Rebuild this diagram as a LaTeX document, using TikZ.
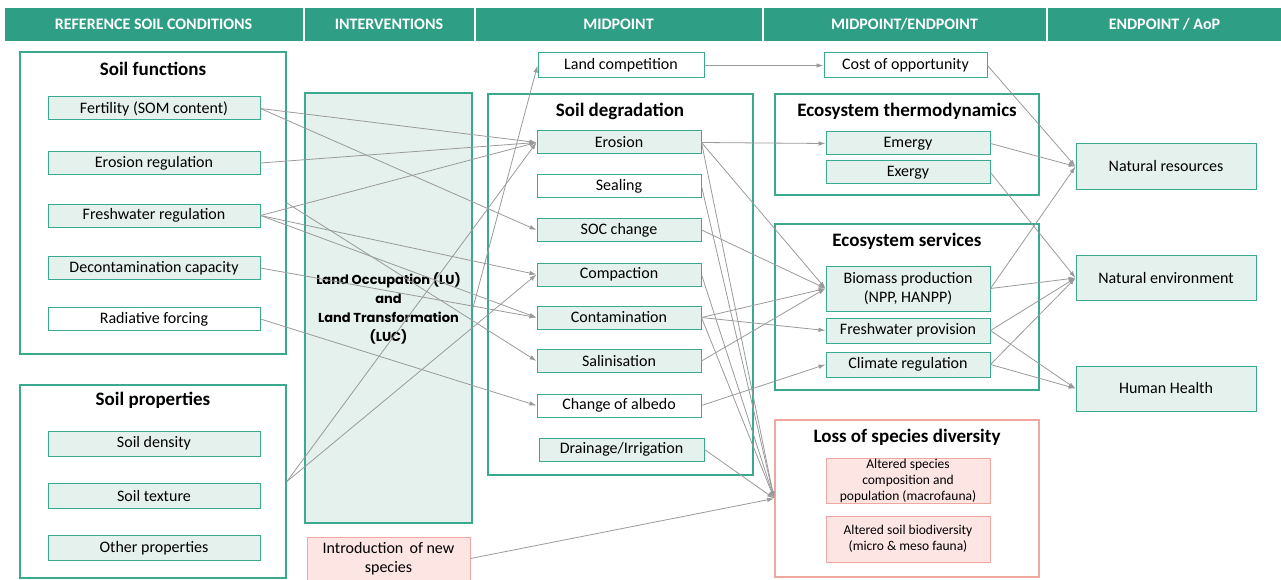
\documentclass[tikz,border=0pt]{standalone}
\usepackage{fontspec}
\setmainfont{Carlito}
\newfontfamily\gothic{Poppins}
\usetikzlibrary{arrows.meta}
\definecolor{headteal}{HTML}{2E9E85}
\definecolor{lineteal}{HTML}{3AAA8F}
\definecolor{fillteal}{HTML}{E4F1ED}
\definecolor{linepink}{HTML}{F0A7A0}
\definecolor{fillpink}{HTML}{FCE5E2}
\definecolor{arrgray}{HTML}{9A9A9A}
\tikzset{
  head/.style={fill=headteal, draw=headteal, text=white, minimum height=32pt, font=\bfseries\fontsize{16}{18}\selectfont},
  group/.style={draw=lineteal, line width=1.8pt, minimum width=264pt},
  grouptitle/.style={font=\bfseries\fontsize{19}{21}\selectfont},
  item/.style={draw=lineteal, fill=fillteal, line width=1pt, minimum width=164pt, minimum height=23pt, font=\fontsize{16}{19}\selectfont, align=center},
  itemwhite/.style={item, fill=white},
  itempink/.style={item, draw=linepink, fill=fillpink},
  aop/.style={item, minimum width=180pt, minimum height=45pt},
  link/.style={draw=arrgray, line width=0.8pt, -{Latex[length=7pt,width=4.5pt]}}
}
\begin{document}
\begin{tikzpicture}[x=1pt,y=-1pt,inner sep=0pt]
\useasboundingbox (0,0) rectangle (1281,580);

\node(h1) at (153.5,24) [head, minimum width=297pt] {REFERENCE SOIL CONDITIONS};
\node(h2) at (389,24) [head, minimum width=168pt] {INTERVENTIONS};
\node(h3) at (618.5,24) [head, minimum width=285pt] {MIDPOINT};
\node(h4) at (904.5,24) [head, minimum width=281pt] {MIDPOINT/ENDPOINT};
\node(h5) at (1164.5,24) [head, minimum width=233pt] {ENDPOINT / AoP};

\node(funcs) at (153,203) [group, minimum width=266pt, minimum height=302pt] {};
\node(funcst) at (153,69) [grouptitle] {Soil functions};
\node(fert) at (154,108.5) [item, minimum width=212pt] {Fertility (SOM content)};
\node(ereg) at (154,163) [item, minimum width=212pt] {Erosion regulation};
\node(fwreg) at (154,215.5) [item, minimum width=212pt] {Freshwater regulation};
\node(decon) at (154,268) [item, minimum width=212pt] {Decontamination capacity};
\node(radf) at (154,319) [itemwhite, minimum width=212pt] {Radiative forcing};

\node(props) at (153,481.5) [group, minimum width=266pt, minimum height=193pt] {};
\node(propst) at (153,400) [grouptitle] {Soil properties};
\node(dens) at (154,443.5) [item, minimum width=212pt, minimum height=25pt] {Soil density};
\node(text) at (154,495.5) [item, minimum width=212pt, minimum height=25pt] {Soil texture};
\node(other) at (154,548) [item, minimum width=212pt, minimum height=25pt] {Other properties};

\node(lu) at (388.5,308) [item, line width=1.8pt, minimum width=167pt, minimum height=430pt, font=\gothic\bfseries\fontsize{13}{19}\selectfont] {Land Occupation (LU)\\and\\Land Transformation\\(LUC)};
\node(intro) at (388.5,558.5) [itempink, minimum width=163pt, minimum height=43pt] {Introduction\, of new\\species};

\node(lcomp) at (621,65.5) [itemwhite, minimum width=166pt, minimum height=25pt] {Land competition};
\node(degr) at (620.5,284.5) [group, minimum width=265pt, minimum height=381pt] {};
\node(degrt) at (620,111) [grouptitle] {Soil degradation};
\node(eros) at (619,142.5) [item] {Erosion};
\node(seal) at (619,186) [itemwhite] {Sealing};
\node(soc) at (619,230) [item] {SOC change};
\node(comp) at (619,274.5) [item] {Compaction};
\node(cont) at (619,317.5) [item] {Contamination};
\node(sali) at (619,361) [item] {Salinisation};
\node(albe) at (619,405.5) [itemwhite] {Change of albedo};
\node(drain) at (621.5,449.5) [item, minimum width=165pt] {Drainage/Irrigation};

\node(cost) at (905.5,65.5) [itemwhite, minimum width=163pt, minimum height=25pt] {Cost of opportunity};
\node(thermo) at (907,144.5) [group, minimum height=101pt] {};
\node(thermot) at (907,111) [grouptitle] {Ecosystem thermodynamics};
\node(emer) at (908,143.5) [item] {Emergy};
\node(exer) at (908,172.5) [item] {Exergy};
\node(serv) at (907,307) [group, minimum height=166pt] {};
\node(servt) at (907,241) [grouptitle] {Ecosystem services};
\node(biom) at (908,288.5) [item, minimum height=45pt] {Biomass production\\(NPP, HANPP)};
\node(fwprov) at (908,330.5) [item, minimum height=25pt] {Freshwater provision};
\node(clim) at (908,364.5) [item, minimum height=25pt] {Climate regulation};
\node(loss) at (907,498.5) [group, draw=linepink, minimum height=157pt] {};
\node(losst) at (907,437) [grouptitle] {Loss of species diversity};
\node(alt1) at (908,480.5) [itempink, minimum height=45pt, font=\fontsize{13.5}{16}\selectfont] {Altered species\\composition and\\population (macrofauna)};
\node(alt2) at (908,539) [itempink, minimum height=46pt, font=\fontsize{13.5}{16}\selectfont] {Altered soil biodiversity\\(micro \& meso fauna)};

\node(natres) at (1166,166.5) [aop] {Natural resources};
\node(natenv) at (1166,278) [aop] {Natural environment};
\node(hh) at (1166,388.5) [aop] {Human Health};

\draw[link] (fert.east) -- (eros.west);
\draw[link] (fert.east) -- (soc.west);
\draw[link] (ereg.east) -- (eros.west);
\draw[link] (fwreg.east) -- (eros.west);
\draw[link] (fwreg.east) -- (comp.west);
\draw[link] (fwreg.east) -- (cont.west);
\draw[link] (decon.east) -- (cont.west);
\draw[link] (radf.east) -- (albe.west);
\draw[link] (funcs.east) -- (sali.west);
\draw[link] (props.east) -- (eros.west);
\draw[link] (props.east) -- (comp.west);
\draw[link] (lu.east) -- (lcomp.west);

\draw[link] (lcomp.east) -- (cost.west);
\draw[link] (eros.east) -- (emer.west);
\draw[link] (eros.east) -- (biom.west);
\draw[link] (eros.east) -- (loss.west);
\draw[link] (seal.east) -- (loss.west);
\draw[link] (soc.east) -- (biom.west);
\draw[link] (comp.east) -- (loss.west);
\draw[link] (cont.east) -- (biom.west);
\draw[link] (cont.east) -- (fwprov.west);
\draw[link] (cont.east) -- (loss.west);
\draw[link] (sali.east) -- (biom.west);
\draw[link] (albe.east) -- (clim.west);
\draw[link] (drain.east) -- (loss.west);
\draw[link] (intro.east) -- (loss.west);

\draw[link] (cost.east) -- (natres.west);
\draw[link] (emer.east) -- (natres.west);
\draw[link] (exer.east) -- (natenv.west);
\draw[link] (biom.east) -- (natres.west);
\draw[link] (biom.east) -- (natenv.west);
\draw[link] (fwprov.east) -- (natenv.west);
\draw[link] (fwprov.east) -- (hh.west);
\draw[link] (clim.east) -- (natenv.west);
\draw[link] (clim.east) -- (hh.west);

\end{tikzpicture}
\end{document}
